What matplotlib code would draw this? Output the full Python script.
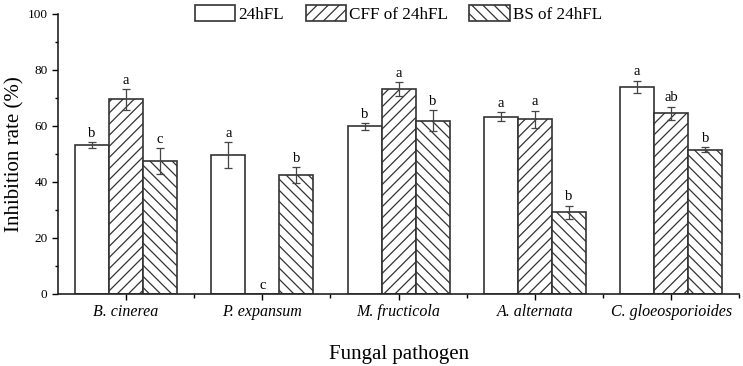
import matplotlib
matplotlib.use("Agg")
import matplotlib.pyplot as plt
import numpy as np

plt.rcParams['font.family'] = ['Liberation Serif', 'DejaVu Serif']
plt.rcParams['hatch.linewidth'] = 0.9
plt.rcParams['hatch.color'] = '#444444'

# data
pathogens = ['B. cinerea', 'P. expansum', 'M. fructicola', 'A. alternata', 'C. gloeosporioides']
series = ['24hFL', 'CFF of 24hFL', 'BS of 24hFL']
fl24 = [53.2, 49.6, 59.8, 63.3, 73.9]
fl24_err = [1.1, 4.5, 1.3, 1.6, 2.3]
cff = [69.5, 0.0, 73.2, 62.3, 64.5]
cff_err = [3.75, 0.0, 2.4, 3.2, 2.4]
bs = [47.5, 42.4, 61.9, 29.2, 51.5]
bs_err = [4.6, 2.9, 3.8, 2.3, 0.8]
letters_fl24 = ['b', 'a', 'b', 'a', 'a']
letters_cff = ['a', 'c', 'a', 'a', 'ab']
letters_bs = ['c', 'b', 'b', 'b', 'b']

fig = plt.figure(figsize=(7.43, 3.66), dpi=100)
ax = fig.add_axes([0.078, 0.197, 0.917, 0.765])

x = np.arange(len(pathogens))
w = 0.25
edge = '#333333'
groups = [
    (fl24, fl24_err, letters_fl24, '', -w),
    (cff, cff_err, letters_cff, '///', 0),
    (bs, bs_err, letters_bs, '\\\\\\', w),
]
for (vals, errs, lets, hatch, off), name in zip(groups, series):
    ax.bar(x + off, vals, w, color='white', edgecolor=edge, linewidth=1.2,
           hatch=hatch, label=name, zorder=2)
    for xi, v, e, l in zip(x + off, vals, errs, lets):
        if e > 0:
            ax.errorbar(xi, v, yerr=e, color='#444444', capsize=3, elinewidth=0.9,
                        capthick=0.9, zorder=3)
        ax.text(xi, v + e + 0.8, l, ha='center', va='bottom', fontsize=10.5)

ax.set_xlim(-0.5, 4.5)
ax.set_ylim(0, 100)
ax.set_yticks(np.arange(0, 101, 20))
ax.set_yticks(np.arange(0, 101, 10), minor=True)
ax.set_xticks(x)
ax.set_xticks(np.arange(0.5, 4.6, 1.0), minor=True)
ax.set_xticklabels(pathogens, fontstyle='italic', fontsize=11.5)
ax.tick_params(axis='y', labelsize=9.5, length=4, width=1, direction='out')
ax.tick_params(axis='y', which='minor', length=2.5, width=1)
ax.tick_params(axis='x', which='major', length=4, width=1, pad=3)
ax.tick_params(axis='x', which='minor', length=3, width=1)
for s in ['top', 'right']:
    ax.spines[s].set_visible(False)
for s in ['left', 'bottom']:
    ax.spines[s].set_linewidth(1.2)
    ax.spines[s].set_color('#222222')

ax.set_ylabel('Inhibition rate (%)', fontsize=15, labelpad=2)
ax.set_xlabel('Fungal pathogen', fontsize=15, labelpad=18)

leg = ax.legend(loc='center', bbox_to_anchor=(0.5, 1.0), ncol=3, frameon=False,
                fontsize=12.3, handlelength=2.35, handleheight=1.1,
                handletextpad=0.2, columnspacing=1.25)

fig.savefig('out.png', dpi=100)
